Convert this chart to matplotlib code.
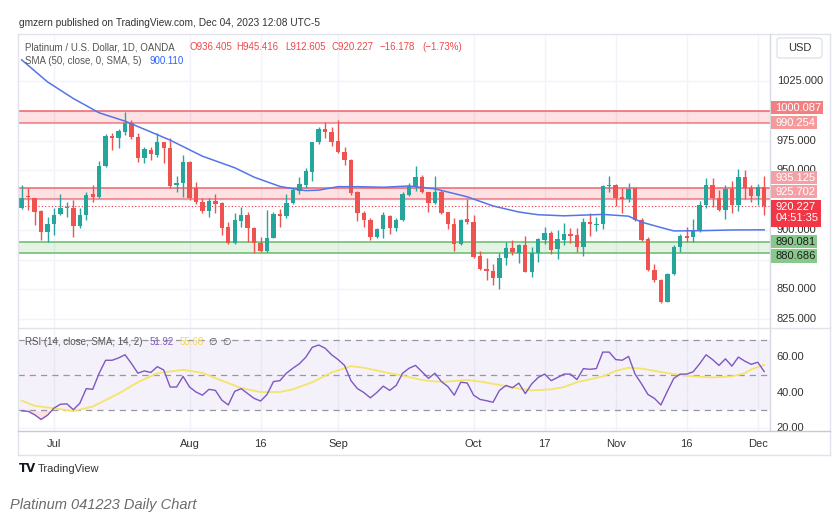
import numpy as np
import pandas as pd
import matplotlib
matplotlib.use("Agg")
import matplotlib.pyplot as plt
from matplotlib.patches import Rectangle, FancyBboxPatch
from matplotlib.lines import Line2D

plt.rcParams['font.family'] = ['Liberation Sans', 'DejaVu Sans']

# ---------------- data ----------------
dates = pd.bdate_range('2023-06-26', '2023-12-04')

opens = [918.8, 928.8, 926.6, 916.0, 898.6, 905.0, 913.2, 918.2, 918.8, 903.6,
         912.6, 930.0, 927.7, 953.8, 979.0, 977.0, 982.6, 989.6, 977.8, 960.8,
         967.2, 963.0, 973.6, 969.2, 937.8, 939.2, 956.8, 935.0, 923.8, 916.0,
         924.4, 922.7, 902.8, 888.8, 907.6, 912.6, 902.0, 889.4, 882.6, 893.6,
         913.4, 911.8, 923.0, 932.8, 937.8, 949.0, 973.6, 984.8, 982.0, 974.8,
         965.8, 958.8, 931.6, 914.0, 908.4, 894.4, 900.8, 912.0, 902.0, 908.4,
         929.4, 937.2, 944.8, 931.6, 922.4, 931.6, 914.8, 905.0, 888.0, 909.0,
         907.0, 878.2, 867.2, 865.6, 859.4, 876.2, 885.2, 881.0, 887.4, 865.0,
         881.0, 891.6, 897.2, 884.0, 891.6, 896.6, 895.8, 886.0, 907.0, 904.2,
         904.8, 936.7, 937.8, 927.7, 926.0, 935.0, 908.4, 892.2, 866.4, 858.0,
         839.8, 862.8, 886.0, 895.0, 894.4, 900.0, 921.0, 937.8, 926.6, 916.8,
         934.4, 921.0, 944.2, 935.0, 928.8, 936.405]
highs = [937.8, 935.6, 927.2, 916.5, 911.2, 918.8, 930.0, 923.8, 925.2, 918.2,
         931.6, 937.8, 958.0, 980.4, 981.2, 984.6, 998.8, 992.4, 981.2, 970.0,
         970.0, 981.2, 974.2, 977.6, 945.6, 963.0, 958.0, 940.6, 926.6, 927.2,
         930.0, 923.2, 907.0, 914.0, 919.6, 914.8, 902.8, 894.4, 916.8, 914.8,
         917.4, 930.0, 935.0, 944.8, 952.4, 974.2, 986.8, 991.0, 986.2, 992.4,
         970.0, 959.5, 932.8, 916.0, 909.8, 901.4, 914.8, 912.6, 909.8, 931.6,
         939.2, 953.8, 946.2, 932.2, 945.4, 933.6, 915.4, 909.8, 909.0, 925.8,
         912.6, 882.6, 876.2, 871.2, 880.4, 890.2, 891.6, 888.0, 895.0, 886.0,
         893.0, 902.8, 899.2, 900.0, 905.6, 901.4, 902.0, 909.8, 914.0, 911.2,
         937.8, 945.4, 938.4, 935.6, 939.2, 935.6, 909.8, 894.4, 871.2, 858.8,
         863.6, 887.4, 896.4, 902.8, 909.2, 924.4, 943.4, 944.0, 933.6, 937.8,
         941.2, 951.0, 950.4, 937.8, 938.4, 945.416]
lows = [917.6, 916.8, 904.2, 891.6, 889.6, 895.8, 912.6, 910.6, 894.4, 901.4,
        908.4, 923.8, 926.6, 952.9, 967.2, 968.6, 979.8, 976.2, 956.8, 956.0,
        958.8, 961.6, 956.0, 935.6, 931.6, 928.0, 925.2, 922.1, 914.0, 911.2,
        914.0, 895.8, 888.0, 888.0, 902.8, 890.2, 880.8, 881.8, 881.8, 893.0,
        902.8, 909.8, 921.8, 930.0, 935.0, 941.2, 972.0, 977.0, 970.8, 964.4,
        954.6, 929.4, 907.8, 902.8, 891.6, 893.0, 893.6, 896.4, 899.2, 907.6,
        928.8, 932.8, 930.8, 915.4, 921.6, 913.2, 900.6, 882.4, 887.4, 905.4,
        876.5, 866.4, 858.0, 853.8, 850.2, 870.6, 879.0, 872.0, 864.4, 860.8,
        872.8, 888.0, 879.6, 875.4, 887.4, 888.8, 881.2, 878.4, 895.2, 899.2,
        900.8, 932.2, 920.4, 914.0, 923.8, 907.6, 891.0, 865.8, 856.6, 838.9,
        839.2, 862.2, 881.8, 889.6, 890.2, 898.6, 918.2, 919.6, 916.2, 909.2,
        914.0, 916.0, 926.0, 923.8, 921.0, 912.605]
closes = [927.2, 927.4, 915.4, 898.6, 904.8, 912.6, 918.2, 919.6, 903.6, 912.6,
          929.4, 927.7, 953.8, 979.0, 977.0, 983.2, 989.6, 977.8, 960.8, 967.8,
          963.6, 974.2, 968.6, 937.2, 939.8, 956.8, 926.6, 923.2, 916.0, 924.4,
          922.1, 902.0, 888.8, 908.4, 912.6, 901.4, 888.8, 882.4, 893.6, 913.2,
          911.8, 923.0, 933.6, 938.4, 949.6, 973.6, 984.8, 982.0, 974.2, 965.8,
          958.8, 930.8, 914.0, 908.4, 894.4, 900.8, 912.6, 902.0, 908.4, 930.0,
          937.2, 944.8, 931.6, 922.4, 931.6, 914.0, 905.0, 888.0, 908.4, 906.4,
          877.6, 867.2, 865.6, 859.4, 876.2, 885.2, 881.2, 887.4, 865.0, 881.0,
          892.2, 897.2, 883.2, 892.2, 896.4, 895.2, 886.0, 907.0, 904.8, 905.4,
          937.0, 937.8, 927.2, 926.0, 934.4, 908.4, 891.6, 866.4, 858.0, 839.8,
          862.8, 886.0, 895.0, 893.6, 900.0, 921.0, 937.8, 926.6, 916.8, 934.4,
          921.0, 944.2, 935.0, 928.8, 936.405, 920.227]

# SMA(50) line read at sample bars
sma_bars = [0, 4, 8, 12, 16, 20, 23, 28, 33, 36, 40, 42, 44, 46, 49, 52, 56, 60,
            64, 69, 73, 77, 80, 84, 90, 94, 96, 99, 101, 105, 110, 115]
sma_vals = [1043.0, 1024.5, 1010.5, 998.5, 991.5, 982.4, 975.5, 962.0, 952.3, 944.4,
            936.6, 934.7, 933.1, 933.5, 936.4, 936.4, 935.9, 937.0, 934.6, 927.9,
            920.2, 915.1, 912.8, 911.9, 913.1, 911.6, 906.6, 902.1, 899.2, 899.4,
            900.0, 900.11]

rsi = [29.8, 29.5, 27.6, 24.9, 27.3, 31.3, 33.5, 33.7, 30.4, 34.0,
       42.3, 41.9, 51.0, 58.3, 58.3, 59.6, 61.4, 56.5, 51.0, 52.3,
       51.4, 54.7, 52.8, 43.2, 43.2, 49.2, 43.2, 40.4, 38.6, 41.9,
       41.3, 35.8, 33.1, 40.8, 42.3, 39.5, 36.8, 35.3, 39.0, 46.3,
       46.8, 51.0, 53.8, 56.3, 60.0, 65.6, 66.9, 65.1, 61.4, 58.7,
       55.4, 46.8, 42.3, 40.1, 37.1, 40.1, 43.7, 41.3, 44.1, 51.0,
       53.8, 55.4, 51.8, 48.1, 51.0, 46.3, 43.5, 38.6, 45.9, 45.5,
       38.6, 36.2, 35.5, 34.6, 41.3, 44.1, 42.8, 45.4, 39.5, 45.0,
       48.6, 50.5, 46.8, 48.6, 50.5, 50.5, 47.4, 53.6, 53.2, 53.6,
       62.9, 62.9, 58.7, 58.3, 60.5, 50.5, 45.0, 39.0, 36.8, 33.1,
       40.8, 48.1, 50.5, 50.5, 51.8, 56.3, 61.4, 58.7, 55.4, 59.1,
       55.0, 60.1, 57.8, 56.0, 57.2, 51.92]

rsi_ma_bars = [0, 2, 5, 8, 11, 15, 18, 21, 25, 28, 31, 34, 37, 40, 42, 45, 48, 51,
               53, 56, 59, 62, 64, 66, 69, 71, 74, 77, 79, 82, 84, 86, 90, 92, 94,
               96, 99, 101, 104, 107, 110, 112, 113, 115]
rsi_ma_vals = [35.5, 32.6, 31.2, 29.6, 32.2, 39.5, 45.9, 51.0, 52.9, 51.2, 46.8, 42.6,
               40.4, 40.4, 41.9, 45.9, 51.4, 55.0, 54.1, 51.7, 49.6, 47.2, 46.3, 46.3,
               47.2, 46.3, 44.4, 42.3, 41.3, 41.9, 43.2, 45.9, 49.2, 52.3, 54.1, 53.6,
               51.7, 50.5, 49.2, 48.6, 49.2, 51.0, 53.2, 55.68]

red_zone_1 = (990.254, 1000.087)
red_zone_2 = (925.702, 935.125)
green_zone = (880.686, 890.081)
last_price = 920.227
countdown = '04:51:35'

price_grid = [825, 850, 875, 900, 925, 950, 975, 1000, 1025]
price_labels = [825, 850, 900, 950, 975, 1025]   # the others are covered by tags
rsi_ticks = [20, 40, 60]
tick_dates = ['2023-07-03', '2023-08-01', '2023-08-16', '2023-09-01', '2023-10-02',
              '2023-10-17', '2023-11-01', '2023-11-16', '2023-12-01']
tick_labels = ['Jul', 'Aug', '16', 'Sep', 'Oct', '17', 'Nov', '16', 'Dec']

# ---------------- figure ----------------
W, H = 840, 527
fig = plt.figure(figsize=(W / 100, H / 100), dpi=100)
fig.patch.set_facecolor('white')


def fx(x):
    return x / W


def fy(y):
    return 1 - y / H


ax = fig.add_axes([fx(18), fy(328), (770 - 18) / W, (328 - 35) / H])
axr = fig.add_axes([fx(18), fy(431), (770 - 18) / W, (431 - 328) / H], sharex=ax)

UP = '#26a69a'
DN = '#ef5350'
GRID = '#f0f3fa'

o = np.array(opens); h = np.array(highs); l = np.array(lows); c = np.array(closes)
x = np.arange(len(o))
up = c >= o
cols = np.where(up, UP, DN)

tick_idx = [dates.get_loc(pd.Timestamp(d)) for d in tick_dates]

for a in (ax, axr):
    a.set_facecolor('white')
    for s in a.spines.values():
        s.set_visible(False)
    for t in tick_idx:
        a.axvline(t, color=GRID, lw=1, zorder=0)

ax.set_xlim(-0.57, 115.9)
ax.set_ylim(817.6, 1063.9)
for p in price_grid:
    ax.axhline(p, color=GRID, lw=1, zorder=0)

# zones
for lo, hi in (red_zone_1, red_zone_2):
    ax.axhspan(lo, hi, color='#f23645', alpha=0.15, lw=0, zorder=1)
    ax.axhline(hi, color='#f0636e', lw=1.1, zorder=1.5)
    ax.axhline(lo, color='#f0636e', lw=1.1, alpha=0.85, zorder=1.5)
ax.axhspan(*green_zone, color='#4caf50', alpha=0.15, lw=0, zorder=1)
ax.axhline(green_zone[1], color='#66bb6a', lw=1.1, zorder=1.5)
ax.axhline(green_zone[0], color='#66bb6a', lw=1.1, zorder=1.5)

ax.axhline(last_price, color='#f23645', lw=0.8, ls=(0, (1, 2)), zorder=1.6)

# candles
ax.vlines(x, l, h, colors=cols, lw=1, zorder=3)
body_lo = np.minimum(o, c)
body_h = np.maximum(np.abs(c - o), 0.8)
ax.bar(x, body_h, bottom=body_lo, width=0.68, color=cols, lw=0, zorder=4)

# SMA
ax.plot(sma_bars, sma_vals, color='#5474e8', lw=1.1, zorder=5)

ax.set_yticks([])
ax.tick_params(axis='x', labelbottom=False, bottom=False, length=0)

# price axis labels
ytr = ax.get_yaxis_transform()
for p in price_labels:
    ax.text(1.009, p, f'{p:.3f}', transform=ytr, fontsize=8, color='#333333',
            va='center', ha='left', clip_on=False, zorder=6)


def ypix(a, val):
    """top-origin pixel row of a data value"""
    return H - a.transData.transform((0, val))[1]


def tag(a, val, lines, bg, fg, dy_px=0.0, width=47):
    yc = ypix(a, val) - dy_px
    n = len(lines)
    hgt = 13.3 * n
    top = yc - 6.65
    fig.add_artist(Rectangle((fx(770.7), fy(top + hgt)), width / W, hgt / H,
                             transform=fig.transFigure, fc=bg, ec='none', zorder=10))
    for k, s in enumerate(lines):
        fig.text(fx(775.5), fy(top + 6.9 + 11 * k), s, fontsize=8, color=fg,
                 va='center', ha='left', zorder=11)


tag(ax, red_zone_1[1], ['1000.087'], '#f28080', 'white', 3.4, 52)
tag(ax, red_zone_1[0], ['990.254'], '#f49a9a', 'white', 0, 46.6)
tag(ax, red_zone_2[1], ['935.125'], '#f5a0a6', 'white', 10.5, 46.6)
tag(ax, red_zone_2[0], ['925.702'], '#f5a0a6', 'white', 7.7, 46.6)
tag(ax, last_price, [f'{last_price:.3f}', countdown], '#f23645', 'white', -0.8, 50)
tag(ax, green_zone[1], ['890.081'], '#86c98a', '#1e1e1e', 0.5, 46.6)
tag(ax, green_zone[0], ['880.686'], '#86c98a', '#1e1e1e', -3, 46.6)

# ---------------- RSI ----------------
axr.set_ylim(18.4, 76.5)
axr.axhspan(30, 70, color='#7e57c2', alpha=0.08, lw=0, zorder=0.5)
for lv in (70, 50, 30):
    axr.axhline(lv, color='#9598a1', lw=0.9, ls=(0, (5, 4)), zorder=1)
for lv in rsi_ticks:
    axr.axhline(lv, color=GRID, lw=1, zorder=0.6)
r = np.array(rsi)
axr.fill_between(x, r, 30, where=r < 30, interpolate=True, color='#f23645',
                 alpha=0.15, lw=0, zorder=1.2)
axr.plot(rsi_ma_bars, rsi_ma_vals, color='#f3e46a', lw=1.3, zorder=2)
axr.plot(x, r, color='#7e57c2', lw=1, zorder=3)
axr.set_yticks([])
axr.set_xticks(tick_idx)
axr.set_xticklabels(tick_labels, fontsize=8, color='#333333')
axr.tick_params(axis='x', length=0, pad=5.5, labelbottom=True)
ytr2 = axr.get_yaxis_transform()
for v in rsi_ticks:
    axr.text(1.009, v, f'{v:.2f}', transform=ytr2, fontsize=8, color='#333333',
             va='center', ha='left', clip_on=False, zorder=6)

# ---------------- frame lines ----------------
def fline(x0, y0, x1, y1, color='#e0e3eb', lw=1):
    fig.add_artist(Line2D([fx(x0), fx(x1)], [fy(y0), fy(y1)], color=color, lw=lw,
                          transform=fig.transFigure))


fline(18, 34, 830, 34)
fline(18, 34, 18, 455)
fline(830, 34, 830, 455)
fline(18, 455, 830, 455)
fline(770, 34, 770, 431, color='#d6d9e0')
fline(18, 328, 830, 328, color='#e0e3eb')
fline(18, 431, 830, 431, color='#c8cbd3')
fig.add_artist(FancyBboxPatch((fx(777), fy(58)), (822 - 777) / W, 20 / H,
                              boxstyle='round,pad=0,rounding_size=0.004',
                              transform=fig.transFigure, fc='white', ec='#e0e3eb', lw=1))
fig.text(fx(799.5), fy(48), 'USD', fontsize=8, color='#333333', ha='center', va='center')

# ---------------- texts ----------------
FS = 7.0
fig.text(fx(19), fy(22.5), 'gmzern published on TradingView.com, Dec 04, 2023 12:08 UTC-5',
         fontsize=7.3, color='#333333', va='center')
fig.text(fx(25), fy(47), 'Platinum / U.S. Dollar, 1D, OANDA', fontsize=FS, color='#555555', va='center')
ohlc = [('O936.405', 190), ('H945.416', 236.5), ('L912.605', 285), ('C920.227', 331.5),
        ('\u221216.178', 380), ('(\u22121.73%)', 422)]
for s, px in ohlc:
    fig.text(fx(px), fy(47), s, fontsize=FS, color='#f04848', va='center')
fig.text(fx(25), fy(61.5), 'SMA (50, close, 0, SMA, 5)', fontsize=FS, color='#555555', va='center')
fig.text(fx(150), fy(61.5), '900.110', fontsize=FS, color='#2962ff', va='center')

fig.text(fx(25), fy(342), 'RSI (14, close, SMA, 14, 2)', fontsize=FS, color='#555555', va='center')
fig.text(fx(150), fy(342), '51.92', fontsize=FS, color='#7e57c2', va='center')
fig.text(fx(180), fy(342), '55.68', fontsize=FS, color='#f5d94a', va='center')
fig.text(fx(208), fy(342), '\u2205', fontsize=FS, color='#555555', va='center', family=['DejaVu Sans'])
fig.text(fx(222), fy(342), '\u2205', fontsize=FS, color='#555555', va='center', family=['DejaVu Sans'])

fig.text(fx(19), fy(469), 'TV', fontsize=8.5, color='#131722', va='center', fontweight='heavy',
         family=['DejaVu Sans'])
fig.text(fx(38), fy(469), 'TradingView', fontsize=8, color='#333333', va='center')

fig.text(fx(10), fy(505), 'Platinum 041223 Daily Chart', fontsize=10.5, color='#6b6b6b',
         va='center', style='italic')

fig.savefig('out.png', dpi=100, facecolor='white')
